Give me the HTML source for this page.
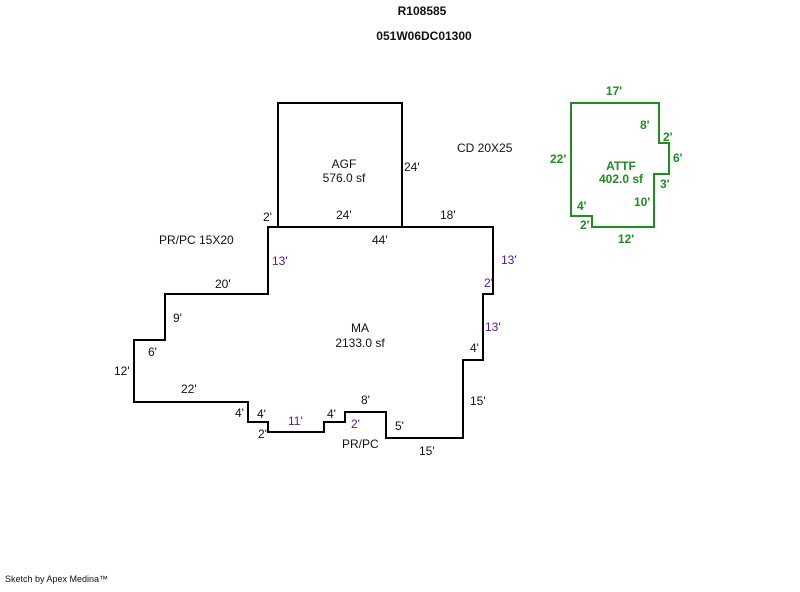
<!DOCTYPE html>
<html><head><style>
body{margin:0;background:#fff;}
svg text{font-family:"Liberation Sans",Arial,sans-serif;font-size:12px;fill:#111;}
.p{fill:#551a8b;}
.g{fill:#228b22;font-weight:bold;}
.b{font-weight:bold;}
</style></head><body>
<svg width="800" height="587" xmlns="http://www.w3.org/2000/svg">
<text x="422" y="15" text-anchor="middle" class="b">R108585</text>
<text x="424" y="40" text-anchor="middle" class="b">051W06DC01300</text>
<g fill="none" stroke="#000" stroke-width="2">
<rect x="278" y="103" width="124" height="124"/>
<polygon points="268,227 493,227 493,294 483,294 483,360 463,360 463,438 386,438 386,412 345,412 345,422 324,422 324,432 268,432 268,422 248,422 248,402 134,402 134,340 165,340 165,294 268,294"/>
</g>
<polygon points="571,103 659,103 659,143 669,143 669,174 654,174 654,227 592,227 592,216 571,216" fill="none" stroke="#228b22" stroke-width="2"/>
<text x="344" y="168" text-anchor="middle">AGF</text>
<text x="344" y="182" text-anchor="middle">576.0 sf</text>
<text x="404" y="171">24'</text>
<text x="457" y="152">CD 20X25</text>
<text x="263" y="221">2'</text>
<text x="336" y="219">24'</text>
<text x="440" y="219">18'</text>
<text x="372" y="244">44'</text>
<text x="159" y="244">PR/PC 15X20</text>
<text x="272" y="265" class="p">13'</text>
<text x="501" y="264" class="p">13'</text>
<text x="484" y="287" class="p">2'</text>
<text x="215" y="288">20'</text>
<text x="173" y="322">9'</text>
<text x="485" y="331" class="p">13'</text>
<text x="360" y="332" text-anchor="middle">MA</text>
<text x="360" y="347" text-anchor="middle">2133.0 sf</text>
<text x="148" y="356">6'</text>
<text x="470" y="352">4'</text>
<text x="114" y="375">12'</text>
<text x="181" y="393">22'</text>
<text x="361" y="404">8'</text>
<text x="470" y="405">15'</text>
<text x="235" y="417">4'</text>
<text x="257" y="418">4'</text>
<text x="327" y="418">4'</text>
<text x="288" y="425" class="p">11'</text>
<text x="351" y="428" class="p">2'</text>
<text x="395" y="430">5'</text>
<text x="258" y="438">2'</text>
<text x="342" y="448">PR/PC</text>
<text x="419" y="455">15'</text>
<text x="614" y="95" text-anchor="middle" class="g">17'</text>
<text x="640" y="129" class="g">8'</text>
<text x="663" y="141" class="g">2'</text>
<text x="550" y="163" class="g">22'</text>
<text x="673" y="162" class="g">6'</text>
<text x="621" y="170" text-anchor="middle" class="g">ATTF</text>
<text x="621" y="183" text-anchor="middle" class="g">402.0 sf</text>
<text x="660" y="188" class="g">3'</text>
<text x="634" y="206" class="g">10'</text>
<text x="577" y="210" class="g">4'</text>
<text x="580" y="229" class="g">2'</text>
<text x="626" y="243" text-anchor="middle" class="g">12'</text>
<text x="5" y="582" style="font-size:9px">Sketch by Apex Medina™</text>
</svg>
</body></html>
